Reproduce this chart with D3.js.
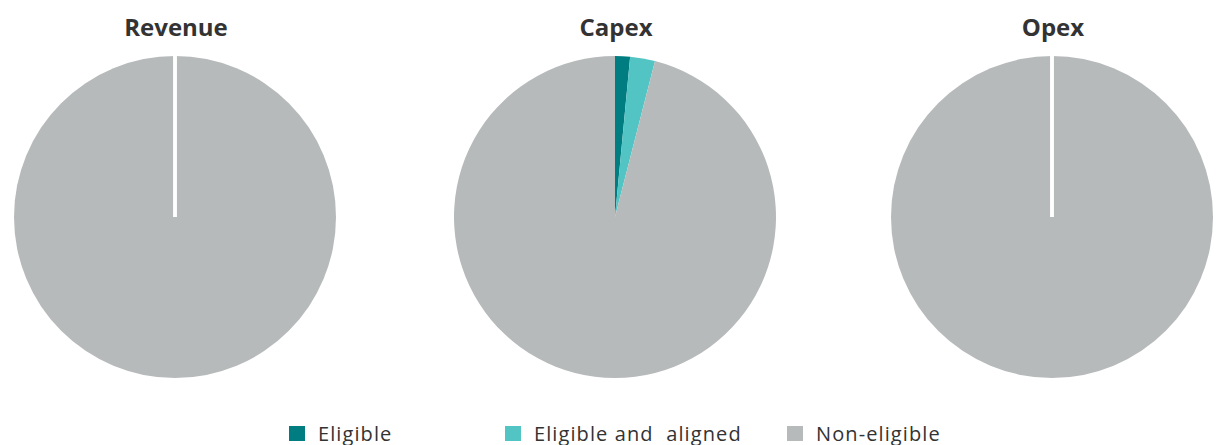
<!DOCTYPE html>
<html><head><meta charset="utf-8">
<script src="https://cdn.jsdelivr.net/npm/d3@7"></script>
<style>body{margin:0;background:#fff;} svg{display:block;}</style>
</head><body>
<svg id="c" width="1227" height="445"></svg>
<script>
const charts = ["Revenue", "Capex", "Opex"];
const categories = ["Eligible", "Eligible and  aligned", "Non-eligible"];
const revenueValues = [0, 0, 100];
const capexValues = [1.5, 2.5, 96];
const opexValues = [0, 0, 100];
const seriesValues = [revenueValues, capexValues, opexValues];
const colors = ["#007d80", "#52c4c4", "#b7babb"];

const svg = d3.select("#c");
const centersX = d3.scaleOrdinal().domain(charts).range([175, 615, 1052]);
const cy = 217, R = 161;
const color = d3.scaleOrdinal().domain(categories).range(colors);
const pie = d3.pie().sort(null).value(d => d.v);
const arc = d3.arc().innerRadius(0).outerRadius(R);

charts.forEach((name, i) => {
  const g = svg.append("g").attr("transform", `translate(${centersX(name)},${cy})`);
  const data = categories.map((c, j) => ({c, v: seriesValues[i][j]}));
  const arcs = pie(data);
  g.selectAll("path.s").data(arcs.filter(d => d.data.v > 0)).join("path").attr("class", "s")
    .attr("d", arc)
    .attr("fill", d => color(d.data.c));
  g.selectAll("path.z").data(arcs.filter(d => d.data.v === 0)).join("path").attr("class", "z")
    .attr("d", arc)
    .attr("fill", "none")
    .attr("stroke", "#fff")
    .attr("stroke-width", 3.5);
  svg.append("text").attr("x", centersX(name) + 1).attr("y", 36)
    .attr("text-anchor", "middle")
    .attr("font-family", "'Open Sans', sans-serif")
    .attr("font-weight", 700).attr("font-size", 24)
    .attr("fill", "#333").text(name);
});

const legendX = d3.scaleOrdinal().domain(categories).range([289, 505, 787]);
const lg = svg.append("g");
categories.forEach(c => {
  lg.append("rect").attr("x", legendX(c)).attr("y", 426).attr("width", 16).attr("height", 15).attr("fill", color(c));
  lg.append("text").attr("x", legendX(c) + 29).attr("y", 441)
    .attr("font-family", "'Open Sans', sans-serif").attr("font-weight", 400)
    .attr("font-size", 20).attr("letter-spacing", 1.1)
    .attr("fill", "#333").style("white-space", "pre").text(c);
});
</script>
</body></html>
